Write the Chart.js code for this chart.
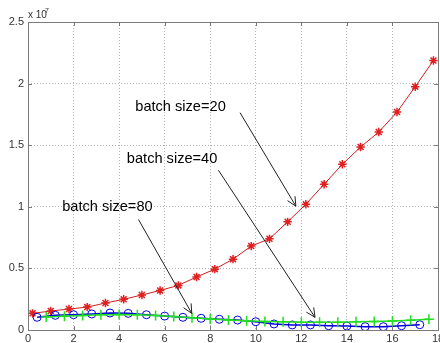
<!DOCTYPE html>
<html><head><meta charset="utf-8">
<script src="https://cdn.jsdelivr.net/npm/chart.js@4"></script>
<style>html,body{margin:0;padding:0;background:#fff;overflow:hidden;width:440px;height:343px}
#wrap{position:absolute;left:0;top:0;width:452px;height:343px}</style>
</head><body><div id="wrap"><canvas id="c" width="452" height="343"></canvas></div>
<script>
// values in units of 1e7
const xTicks = [0, 2, 4, 6, 8, 10, 12, 14, 16, 18];
const yTicks = [0, 0.5, 1, 1.5, 2, 2.5];
const x20 = [0.2,1.0,1.8,2.6,3.4,4.2,5.0,5.8,6.6,7.4,8.2,9.0,9.8,10.6,11.4,12.2,13.0,13.8,14.6,15.4,16.2,17.0,17.8];
const y20 = [0.135,0.154,0.170,0.186,0.219,0.249,0.284,0.321,0.362,0.430,0.494,0.575,0.681,0.740,0.878,1.021,1.183,1.345,1.485,1.607,1.769,1.975,2.188];
const x40 = [0.4,1.2,2.0,2.8,3.6,4.4,5.2,6.0,6.8,7.6,8.4,9.2,10.0,10.8,11.6,12.4,13.2,14.0,14.8,15.6,16.4,17.2];
const y40 = [0.103,0.119,0.124,0.130,0.138,0.135,0.124,0.113,0.103,0.095,0.087,0.081,0.067,0.049,0.041,0.041,0.035,0.032,0.027,0.027,0.035,0.043];
const x80 = [0.8,1.6,2.4,3.2,4.0,4.8,5.6,6.4,7.2,8.0,8.8,9.6,10.4,11.2,12.0,12.8,13.6,14.4,15.2,16.0,16.8,17.6];
const y80 = [0.105,0.112,0.118,0.123,0.126,0.124,0.118,0.110,0.100,0.090,0.082,0.075,0.070,0.066,0.063,0.062,0.063,0.066,0.070,0.074,0.080,0.087];
const annLabels = ["batch size=20", "batch size=40", "batch size=80"];
const annTextPos = [[4.71,1.807],[4.34,1.391],[1.50,0.999]];
const annArrowFrom = [[9.31,1.764],[8.36,1.297],[4.85,0.897]];
const annArrowTo = [[11.76,1.005],[12.60,0.103],[7.19,0.135]];

const pts = (xs, ys) => xs.map((x, i) => ({x, y: ys[i]}));

const boxPlugin = {
  id: 'box',
  afterDatasetsDraw(chart) {
    const {ctx, chartArea: a, scales: {x, y}} = chart;
    ctx.save();
    ctx.strokeStyle = '#7a7a7a'; ctx.lineWidth = 1;
    ctx.strokeRect(Math.round(a.left)+0.5, Math.round(a.top)+0.5, Math.round(a.right-a.left), Math.round(a.bottom-a.top));
    ctx.beginPath();
    xTicks.forEach(t => { const px = Math.round(x.getPixelForValue(t))+0.5;
      ctx.moveTo(px, a.bottom); ctx.lineTo(px, a.bottom-4);
      ctx.moveTo(px, a.top); ctx.lineTo(px, a.top+4); });
    yTicks.forEach(t => { const py = Math.round(y.getPixelForValue(t))+0.5;
      ctx.moveTo(a.left, py); ctx.lineTo(a.left+4, py);
      ctx.moveTo(a.right, py); ctx.lineTo(a.right-4, py); });
    ctx.stroke();
    ctx.fillStyle = '#333';
    ctx.font = '10px "Liberation Sans", Arial, sans-serif';
    ctx.textBaseline = 'middle'; ctx.textAlign = 'left';
    ctx.fillText('x 10', a.left, a.top - 7);
    ctx.font = '7px "Liberation Sans", Arial, sans-serif';
    ctx.fillText('7', a.left + 17, a.top - 11);
    ctx.font = '14.6px "Liberation Sans", Arial, sans-serif';
    ctx.fillStyle = '#000';
    annLabels.forEach((lab, i) => {
      ctx.fillText(lab, x.getPixelForValue(annTextPos[i][0]), y.getPixelForValue(annTextPos[i][1]));
    });
    ctx.strokeStyle = '#222'; ctx.lineWidth = 1;
    annArrowFrom.forEach((f, i) => {
      const x1 = x.getPixelForValue(f[0]), y1 = y.getPixelForValue(f[1]);
      const x2 = x.getPixelForValue(annArrowTo[i][0]), y2 = y.getPixelForValue(annArrowTo[i][1]);
      const ang = Math.atan2(y2-y1, x2-x1), L = 10, h = 0.45;
      ctx.beginPath();
      ctx.moveTo(x1, y1); ctx.lineTo(x2, y2);
      ctx.moveTo(x2 - L*Math.cos(ang-h), y2 - L*Math.sin(ang-h)); ctx.lineTo(x2, y2);
      ctx.lineTo(x2 - L*Math.cos(ang+h), y2 - L*Math.sin(ang+h));
      ctx.stroke();
    });
    ctx.restore();
  }
};

new Chart(document.getElementById('c'), {
  type: 'line',
  data: { datasets: [
    { label: 'batch size=80', data: pts(x80, y80), borderColor: '#22dd22', backgroundColor: '#22dd22',
      borderWidth: 1.5, pointStyle: 'cross', pointRadius: 5, pointBorderWidth: 1.5, tension: 0 },
    { label: 'batch size=40', data: pts(x40, y40), borderColor: '#0000dd', backgroundColor: 'rgba(0,0,0,0)',
      borderWidth: 1.5, pointStyle: 'circle', pointRadius: 4, pointBorderWidth: 1, tension: 0 },
    { label: 'batch size=20', data: pts(x20, y20), borderColor: '#cc1e1e', backgroundColor: '#e02020',
      borderWidth: 1, pointStyle: 'star', pointRadius: 4.2, pointBorderWidth: 1.5, pointBorderColor: '#e02020', tension: 0 }
  ]},
  options: {
    responsive: false, animation: false, devicePixelRatio: 1,
    layout: { padding: { left: 0, right: 14, top: 22, bottom: 0 } },
    plugins: { legend: { display: false }, tooltip: { enabled: false } },
    scales: {
      x: { type: 'linear', min: 0, max: 18,
        afterBuildTicks: s => { s.ticks = xTicks.map(v => ({value: v})); },
        afterFit: s => { s.height = 13; },
        grid: { color: '#b4b4b4', drawTicks: false, lineWidth: 1 },
        border: { display: false, dash: [1, 2] },
        ticks: { padding: 2, color: '#333', maxRotation: 0, autoSkip: false,
          font: { size: 11, family: '"Liberation Sans", Arial, sans-serif' } } },
      y: { type: 'linear', min: 0, max: 2.5,
        afterBuildTicks: s => { s.ticks = yTicks.map(v => ({value: v})); },
        afterFit: s => { s.width = 28; },
        grid: { color: '#b4b4b4', drawTicks: false, lineWidth: 1 },
        border: { display: false, dash: [1, 2] },
        ticks: { padding: 4, color: '#333', callback: v => String(v),
          font: { size: 11, family: '"Liberation Sans", Arial, sans-serif' } } }
    }
  },
  plugins: [boxPlugin]
});
</script></body></html>
